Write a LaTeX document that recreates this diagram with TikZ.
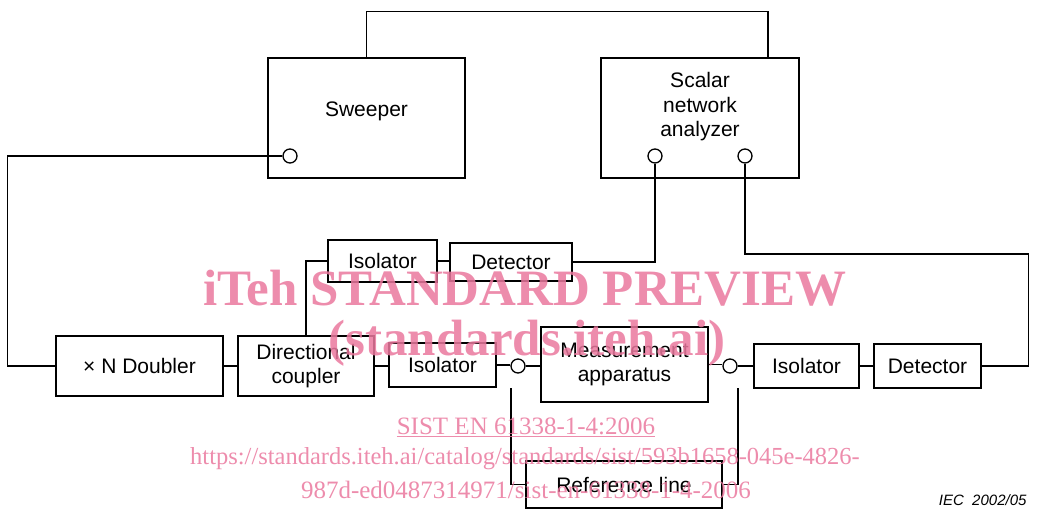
\documentclass[tikz,border=0pt]{standalone}
\usepackage{fontspec}
\setmainfont{Liberation Sans}
\newfontfamily\wmfont{Liberation Serif}
\usetikzlibrary{positioning}
\newcommand{\boxfont}{\fontsize{21}{24.5}\selectfont}
\definecolor{wmpink}{RGB}{234,120,158}

\begin{document}
\begin{tikzpicture}[
  x=1pt, y=-1pt,
  box/.style={draw, line width=1.3pt, inner sep=0pt, font=\boxfont, align=center},
  port/.style={circle, draw, line width=1.3pt, fill=white, minimum size=14pt, inner sep=0pt},
  wire/.style={line width=1.3pt},
  wm/.style={text=wmpink, opacity=0.85, inner sep=0pt}
]
\useasboundingbox (0,0) rectangle (1046,512);

% upper instruments
\node[box, minimum width=197, minimum height=120] (sweeper) at (366.5,118) {};
\node[font=\boxfont] (sweeperlbl) at ([yshift=7]sweeper.center) {Sweeper};
\node[box, minimum width=198, minimum height=120] (sna) at (700,118) {};
\node[font=\boxfont, align=center] (snalbl) at ([yshift=11]sna.center) {Scalar\\network\\analyzer};
\node[port] (swport) at (290,156) {};
\node[port] (snaA) at (655,156) {};
\node[port] (snaB) at (745,156) {};

% main line
\node[box, minimum width=167, minimum height=60] (doubler) at (139.5,366) {× N Doubler};
\node[box, minimum width=136, minimum height=60] (coupler) at (306,366) {Directional\\coupler};
\node[box, minimum width=107, minimum height=44] (isoMid) at (442.5,365) {Isolator};
\node[port] (portA) at (518,366) {};
\node[box, minimum width=167, minimum height=75] (meas) at (624.5,364.5) {Measurement\\apparatus};
\node[port] (portB) at (730,366) {};
\node[box, minimum width=105, minimum height=44] (isoR) at (806.5,366) {Isolator};
\node[box, minimum width=107, minimum height=44] (detR) at (927.5,366) {Detector};

% coupled arm
\node[box, minimum width=109, minimum height=42] (isoTop) at (382.5,261) {Isolator};
\node[box, minimum width=122, minimum height=38] (detTop) at (511,262) {Detector};

% reference
\node[box, minimum width=196, minimum height=47] (ref) at (624,484.5) {Reference line};
\coordinate (refA) at (511,388);
\coordinate (refB) at (738,388);

% connections
\foreach \a/\b in {doubler/coupler,coupler/isoMid,isoMid/portA,portA/meas,meas/portB,portB/isoR,isoR/detR,isoTop/detTop}
  \draw[wire] (\a.east) -- (\a.east -| \b.west);
\draw[wire] (sweeper.north) -- ++(0,-46) -| ([xshift=68]sna.north);
\draw[wire] (swport.west) -- ++(-275,0) |- (doubler.west);
\draw[wire] (coupler.north) |- (isoTop.west);
\draw[wire] (detTop.east) -| (snaA.south);
\draw[wire] (detR.east) -- ++(47,0) -- ++(0,-112) -| (snaB.south);
\draw[wire] (refA) |- (ref.west);
\draw[wire] (refB) |- (ref.east);

\node[font=\fontsize{15}{18}\selectfont\itshape, anchor=east] (iec) at (1030,500) {IEC\ \ 2002/05};

% watermark
\node[wm, font=\wmfont\bfseries\fontsize{51}{55}\selectfont] (wm1) at (525,288) {iTeh STANDARD PREVIEW};
\node[wm, font=\wmfont\bfseries\fontsize{51}{55}\selectfont] (wm2) at (527,343) {(standards.iteh.ai)};
\node[wm, font=\wmfont\fontsize{25}{28}\selectfont] (wm3) at (526,427) {\underline{SIST EN 61338-1-4:2006}};
\node[wm, font=\wmfont\fontsize{24.5}{28}\selectfont] (wm4) at (525,459) {https://standards.iteh.ai/catalog/standards/sist/593b1658-045e-4826-};
\node[wm, font=\wmfont\fontsize{25}{28}\selectfont] (wm5) at (526,490) {987d-ed0487314971/sist-en-61338-1-4-2006};
\end{tikzpicture}
\end{document}
